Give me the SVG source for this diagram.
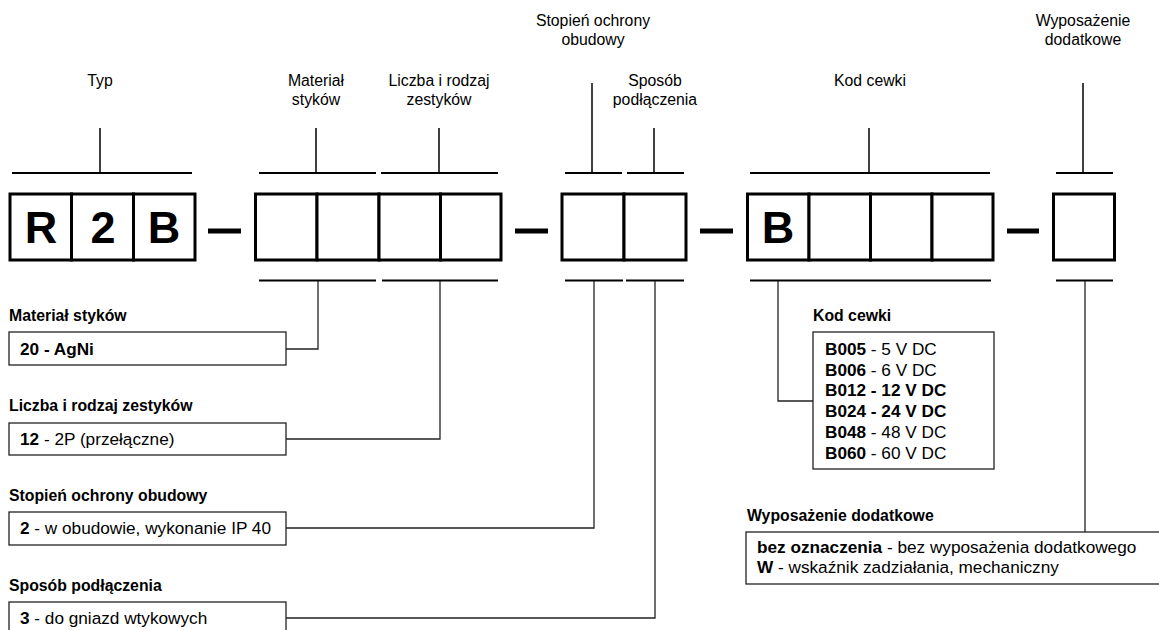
<svg xmlns="http://www.w3.org/2000/svg" width="1159" height="630" viewBox="0 0 1159 630">
<style>
text{font-family:"Liberation Sans",Arial,sans-serif;fill:#000}
.lbl{font-size:15.8px;text-anchor:middle}
.hd{font-size:15.8px;font-weight:bold}
.tx{font-size:17.2px}
.b{font-weight:bold}
.big{font-size:45px;font-weight:bold;text-anchor:middle}
.cell{fill:#fff;stroke:#000;stroke-width:3}
.bar{stroke:#000;stroke-width:2;fill:none}
.tick{stroke:#000;stroke-width:1.5;fill:none}
.dash{stroke:#000;stroke-width:5}
.box{fill:#fff;stroke:#222;stroke-width:1.3}
.con{stroke:#222;stroke-width:1.3;fill:none}
</style>
<rect width="1159" height="630" fill="#fff"/>

<g id="top-labels">
<text class="lbl" x="100" y="86">Typ</text>
<text class="lbl" x="316" y="86">Materiał</text>
<text class="lbl" x="316" y="105">styków</text>
<text class="lbl" x="439" y="86">Liczba i rodzaj</text>
<text class="lbl" x="439" y="105">zestyków</text>
<text class="lbl" x="593" y="26">Stopień ochrony</text>
<text class="lbl" x="593" y="45">obudowy</text>
<text class="lbl" x="655" y="86">Sposób</text>
<text class="lbl" x="655" y="105">podłączenia</text>
<text class="lbl" x="870" y="86">Kod cewki</text>
<text class="lbl" x="1083" y="26">Wyposażenie</text>
<text class="lbl" x="1083" y="45">dodatkowe</text>
</g>

<g id="top-brackets">
<line class="tick" x1="100" y1="128" x2="100" y2="173"/>
<line class="bar" x1="12" y1="173" x2="192" y2="173"/>
<line class="tick" x1="316" y1="128" x2="316" y2="173"/>
<line class="bar" x1="259" y1="173" x2="376" y2="173"/>
<line class="tick" x1="439" y1="128" x2="439" y2="173"/>
<line class="bar" x1="381" y1="173" x2="498" y2="173"/>
<line class="tick" x1="592" y1="83" x2="592" y2="173"/>
<line class="bar" x1="565" y1="173" x2="622" y2="173"/>
<line class="tick" x1="654" y1="128" x2="654" y2="173"/>
<line class="bar" x1="627" y1="173" x2="684" y2="173"/>
<line class="tick" x1="869" y1="128" x2="869" y2="173"/>
<line class="bar" x1="750" y1="173" x2="990" y2="173"/>
<line class="tick" x1="1083" y1="83" x2="1083" y2="173"/>
<line class="bar" x1="1056" y1="173" x2="1113" y2="173"/>
</g>

<g id="code-type">
<rect class="cell" x="10" y="194" width="61.5" height="66"/>
<rect class="cell" x="71.5" y="194" width="62" height="66"/>
<rect class="cell" x="133.5" y="194" width="61.5" height="66"/>
<text class="big" x="41" y="243">R</text>
<text class="big" x="103" y="243">2</text>
<text class="big" x="164" y="243">B</text>
</g>
<line class="dash" x1="208" y1="231" x2="241" y2="231"/>
<g id="code-contacts">
<rect class="cell" x="255.5" y="194" width="61.5" height="66"/>
<rect class="cell" x="317" y="194" width="62" height="66"/>
<rect class="cell" x="379" y="194" width="61.5" height="66"/>
<rect class="cell" x="440.5" y="194" width="60.5" height="66"/>
</g>
<line class="dash" x1="515" y1="231" x2="548" y2="231"/>
<g id="code-housing">
<rect class="cell" x="562" y="194" width="62" height="66"/>
<rect class="cell" x="624" y="194" width="62" height="66"/>
</g>
<line class="dash" x1="700" y1="231" x2="733" y2="231"/>
<g id="code-coil">
<rect class="cell" x="747.5" y="194" width="61.5" height="66"/>
<rect class="cell" x="809" y="194" width="61.5" height="66"/>
<rect class="cell" x="870.5" y="194" width="61.5" height="66"/>
<rect class="cell" x="932" y="194" width="61" height="66"/>
<text class="big" x="778" y="243">B</text>
</g>
<line class="dash" x1="1007" y1="231" x2="1039" y2="231"/>
<g id="code-extra">
<rect class="cell" x="1053.5" y="194" width="61" height="66"/>
</g>

<g id="bottom-brackets">
<line class="bar" x1="259" y1="280.5" x2="376" y2="280.5"/>
<line class="bar" x1="382" y1="280.5" x2="498" y2="280.5"/>
<line class="bar" x1="565" y1="280.5" x2="623" y2="280.5"/>
<line class="bar" x1="626" y1="280.5" x2="684" y2="280.5"/>
<line class="bar" x1="750" y1="280.5" x2="991" y2="280.5"/>
<line class="bar" x1="1056" y1="280.5" x2="1113" y2="280.5"/>
</g>

<g id="connectors">
<polyline class="con" points="318,281 318,349 286,349"/>
<polyline class="con" points="440,281 440,439 286,439"/>
<polyline class="con" points="594,281 594,528 286,528"/>
<polyline class="con" points="655,281 655,618 286,618"/>
<polyline class="con" points="778,281 778,401 813,401"/>
<line class="con" x1="1085" y1="281" x2="1085" y2="532"/>
</g>

<g id="desc-material">
<text class="hd" x="9" y="321">Materiał styków</text>
<rect class="box" x="9" y="332" width="277" height="33"/>
<text class="tx b" x="20" y="355">20 - AgNi</text>
</g>
<g id="desc-contacts">
<text class="hd" x="9" y="411">Liczba i rodzaj zestyków</text>
<rect class="box" x="9" y="423" width="277" height="32"/>
<text class="tx" x="20" y="445"><tspan class="b">12</tspan> - 2P (przełączne)</text>
</g>
<g id="desc-housing">
<text class="hd" x="9" y="501">Stopień ochrony obudowy</text>
<rect class="box" x="9" y="512" width="277" height="33"/>
<text class="tx" x="20" y="534"><tspan class="b">2</tspan> - w obudowie, wykonanie IP 40</text>
</g>
<g id="desc-connection">
<text class="hd" x="9" y="591">Sposób podłączenia</text>
<rect class="box" x="9" y="602" width="277" height="40"/>
<text class="tx" x="20" y="624"><tspan class="b">3</tspan> - do gniazd wtykowych</text>
</g>
<g id="desc-coil">
<text class="hd" x="813" y="321">Kod cewki</text>
<rect class="box" x="813" y="332" width="181" height="137"/>
<text class="tx" x="825" y="355"><tspan class="b">B005</tspan> - 5 V DC</text>
<text class="tx" x="825" y="375.7"><tspan class="b">B006</tspan> - 6 V DC</text>
<text class="tx b" x="825" y="396.4">B012 - 12 V DC</text>
<text class="tx b" x="825" y="417.1">B024 - 24 V DC</text>
<text class="tx" x="825" y="437.8"><tspan class="b">B048</tspan> - 48 V DC</text>
<text class="tx" x="825" y="458.5"><tspan class="b">B060</tspan> - 60 V DC</text>
</g>
<g id="desc-extra">
<text class="hd" x="747" y="521">Wyposażenie dodatkowe</text>
<rect class="box" x="746" y="532" width="430" height="52"/>
<text class="tx" x="757" y="553"><tspan class="b">bez oznaczenia</tspan> - bez wyposażenia dodatkowego</text>
<text class="tx" x="757" y="573"><tspan class="b">W</tspan> - wskaźnik zadziałania, mechaniczny</text>
</g>
</svg>
